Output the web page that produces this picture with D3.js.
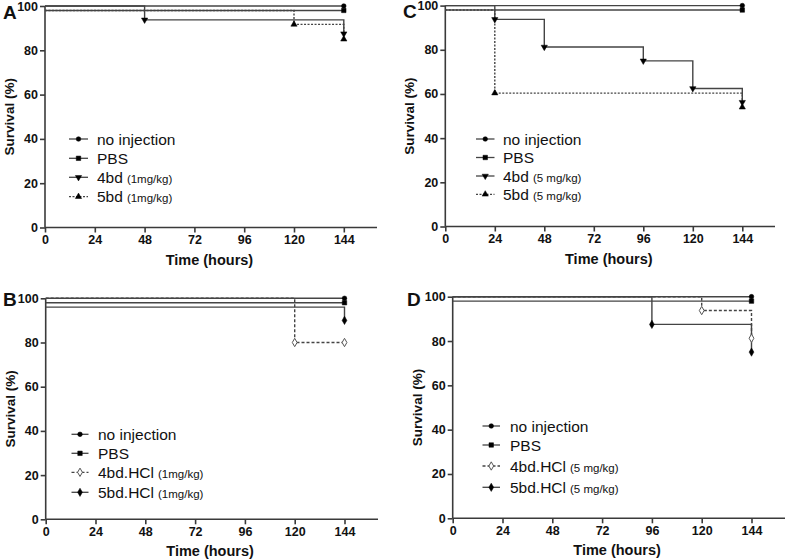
<!DOCTYPE html>
<html><head><meta charset="utf-8">
<script src="https://cdn.jsdelivr.net/npm/d3@7"></script>
<style>body{margin:0;background:#fff}svg{display:block}text{font-family:"Liberation Sans",Arial,sans-serif}</style>
</head><body>
<svg id="c" width="785" height="559"></svg>
<script>
// ---------- data ----------
const panelLetters = ["A", "B", "C", "D"];
const timeTicks = [0, 24, 48, 72, 96, 120, 144];
const survivalTicks = [0, 20, 40, 60, 80, 100];
const xLabel = "Time (hours)";
const yLabel = "Survival (%)";

const seriesNamesAC = ["no injection", "PBS", "4bd", "5bd"];
const seriesNamesBD = ["no injection", "PBS", "4bd.HCl", "5bd.HCl"];
const doseA = ["", "", "(1mg/kg)", "(1mg/kg)"];
const doseB = ["", "", "(1mg/kg)", "(1mg/kg)"];
const doseC = ["", "", "(5 mg/kg)", "(5 mg/kg)"];
const doseD = ["", "", "(5 mg/kg)", "(5 mg/kg)"];

// survival step points [time, %]
const A_noInjection = [[0,100],[144,100]];
const A_PBS = [[0,98],[144,98]];
const A_4bd = [[0,100],[48,93.75],[144,87.5]];
const A_5bd = [[0,98],[120,91.7],[144,85]];

const B_noInjection = [[0,100],[144,100]];
const B_PBS = [[0,98],[144,98]];
const B_4bdHCl = [[0,100],[120,80],[144,80]];
const B_5bdHCl = [[0,96],[144,90]];

const C_noInjection = [[0,100],[144,100]];
const C_PBS = [[0,98],[144,98]];
const C_4bd = [[0,100],[24,93.75],[48,81.25],[96,75],[120,62.5],[144,56.25]];
const C_5bd = [[0,98],[24,60.4],[144,54]];

const D_noInjection = [[0,100],[144,100]];
const D_PBS = [[0,98],[144,98]];
const D_4bdHCl = [[0,100],[120,93.75],[144,81.25]];
const D_5bdHCl = [[0,100],[96,87.5],[144,75]];

// ---------- layout ----------
const svg = d3.select("#c");
const ink = "#3a3a3a";

const sym = {
  circle: {type: d3.symbolCircle, size: 17, fill: "#000", rot: 0},
  square: {type: d3.symbolSquare, size: 20, fill: "#000", rot: 0},
  triDown: {type: d3.symbolTriangle, size: 17, fill: "#000", rot: 180},
  triUp: {type: d3.symbolTriangle, size: 17, fill: "#000", rot: 0},
  diamondOpen: {type: d3.symbolDiamond, size: 20, fill: "#fff", rot: 0},
  diamondFill: {type: d3.symbolDiamond, size: 20, fill: "#000", rot: 0}
};

const panels = [
  {letter: panelLetters[0], x0: 45, y0: 227.5, y100: 6, xEnd: 377, px24: 49.8, names: seriesNamesAC, dose: doseA,
   data: [A_noInjection, A_PBS, A_4bd, A_5bd], syms: ["circle","square","triDown","triUp"], dash: [null,null,null,"2,1.5"],
   letterPos: [3, 19], leg: {x1: 69, x2: 88, tx: 97, y: [139, 158.3, 177.3, 196.7]}},
  {letter: panelLetters[1], x0: 45.7, y0: 519.3, y100: 298.3, xEnd: 378, px24: 49.8, names: seriesNamesBD, dose: doseB,
   data: [B_noInjection, B_PBS, B_4bdHCl, B_5bdHCl], syms: ["circle","square","diamondOpen","diamondFill"], dash: [null,null,"3,2",null],
   letterPos: [3, 306], leg: {x1: 71.5, x2: 88.5, tx: 98, y: [434.3, 453.3, 472.3, 492.3]}},
  {letter: panelLetters[2], x0: 445.3, y0: 226.5, y100: 5.6, xEnd: 775, px24: 49.5, names: seriesNamesAC, dose: doseC,
   data: [C_noInjection, C_PBS, C_4bd, C_5bd], syms: ["circle","square","triDown","triUp"], dash: [null,null,null,"2,1.5"],
   letterPos: [403, 18], leg: {x1: 476, x2: 494.5, tx: 503, y: [139, 157.5, 176, 194.3]}},
  {letter: panelLetters[3], x0: 452.7, y0: 518.3, y100: 296.7, xEnd: 785, px24: 49.8, names: seriesNamesBD, dose: doseD,
   data: [D_noInjection, D_PBS, D_4bdHCl, D_5bdHCl], syms: ["circle","square","diamondOpen","diamondFill"], dash: [null,null,"3,2",null],
   letterPos: [407, 306], leg: {x1: 482.5, x2: 500, tx: 510, y: [426, 445, 466, 487.3]}}
];

function drawSymbol(g, key, x, y) {
  const s = sym[key];
  g.append("path")
    .attr("d", d3.symbol().type(s.type).size(s.size)())
    .attr("transform", `translate(${x},${y}) rotate(${s.rot})`)
    .attr("fill", s.fill).attr("stroke", s.fill === "#fff" ? "#555" : "#000").attr("stroke-width", s.fill === "#fff" ? 1 : 0.5);
}

panels.forEach(p => {
  const g = svg.append("g");
  const x = d3.scaleLinear().domain([0, 144]).range([p.x0, p.x0 + p.px24 * 6]);
  const y = d3.scaleLinear().domain([0, 100]).range([p.y0, p.y100]);

  // axes
  const xAxis = d3.axisBottom(x).tickValues(timeTicks).tickSize(5).tickPadding(3).tickFormat(d3.format("d"));
  const xg = g.append("g").attr("transform", `translate(0,${p.y0})`).call(xAxis);
  xg.select(".domain").attr("d", `M${p.x0},0H${p.xEnd}`);
  const yAxis = d3.axisLeft(y).tickValues(survivalTicks).tickSize(5).tickPadding(2).tickFormat(d3.format("d"));
  const yg = g.append("g").attr("transform", `translate(${p.x0},0)`).call(yAxis);
  yg.select(".domain").attr("d", `M0,${p.y0}V${p.y100}`);
  [xg, yg].forEach(a => {
    a.selectAll(".domain, .tick line").attr("stroke", ink).attr("stroke-width", 1.6);
    a.selectAll(".tick text").attr("font-size", 12.5).attr("font-weight", "bold").attr("fill", "#111")
      .attr("font-family", "'Liberation Sans', Arial, sans-serif");
  });

  // titles
  g.append("text").attr("x", p.x0 + (x(144) - p.x0) / 2 + 15).attr("y", p.y0 + 37)
    .attr("text-anchor", "middle").attr("font-size", 14.5).attr("font-weight", "bold").attr("fill", "#111").text(xLabel);
  g.append("text").attr("transform", `translate(${p.x0 - 31},${(p.y0 + p.y100) / 2}) rotate(-90)`)
    .attr("text-anchor", "middle").attr("font-size", 13.5).attr("font-weight", "bold").attr("fill", "#111").text(yLabel);
  g.append("text").attr("x", p.letterPos[0]).attr("y", p.letterPos[1])
    .attr("font-size", 19).attr("font-weight", "bold").attr("fill", "#111").text(p.letter);

  // curves (Kaplan–Meier steps)
  const line = d3.line().x(d => x(d[0])).y(d => y(d[1])).curve(d3.curveStepAfter);
  p.data.forEach((ser, i) => {
    g.append("path").attr("d", line(ser))
      .attr("fill", "none").attr("stroke", "#444").attr("stroke-width", 1.4)
      .attr("stroke-dasharray", p.dash[i]);
  });
  p.data.forEach((ser, i) => {
    ser.slice(1).forEach(d => drawSymbol(g, p.syms[i], x(d[0]), y(d[1])));
  });

  // legend
  p.names.forEach((n, i) => {
    const ly = p.leg.y[i];
    g.append("line").attr("x1", p.leg.x1).attr("x2", p.leg.x2).attr("y1", ly).attr("y2", ly)
      .attr("stroke", "#444").attr("stroke-width", 1.3).attr("stroke-dasharray", p.dash[i]);
    drawSymbol(g, p.syms[i], (p.leg.x1 + p.leg.x2) / 2, ly);
    const t = g.append("text").attr("x", p.leg.tx).attr("y", ly + 5.5).attr("font-size", 15.5).attr("fill", "#111");
    t.append("tspan").text(n);
    if (p.dose[i]) t.append("tspan").attr("font-size", 11.5).attr("dx", 4).text(p.dose[i]);
  });
});
</script>
</body></html>
